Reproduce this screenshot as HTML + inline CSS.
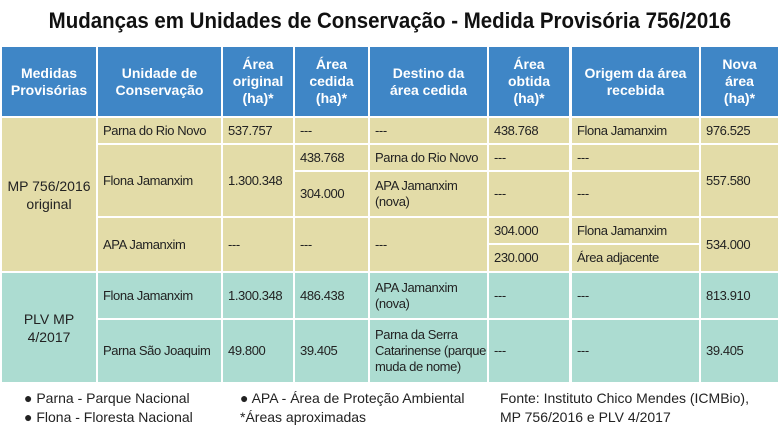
<!DOCTYPE html>
<html><head><meta charset="utf-8"><style>
*{margin:0;padding:0;box-sizing:border-box}
body{width:780px;height:435px;background:#fff;position:relative;overflow:hidden;font-family:"Liberation Sans",Arial,sans-serif}
.t{position:absolute;left:0;top:8px;width:780px;text-align:center}
.t span{display:inline-block;font-weight:bold;font-size:22px;transform:scaleX(0.93);white-space:nowrap;color:#111}
.c{position:absolute;display:flex;align-items:center;font-size:13px;letter-spacing:-0.4px;color:#222;line-height:16px;padding-left:5px}
.h{position:absolute;display:flex;align-items:center;justify-content:center;text-align:center;background:#3f86c6;color:#fff;font-weight:bold;font-size:14px;line-height:17px}
.y{background:#e3dca8}.g{background:#acdcd1}
.ctr{justify-content:center;text-align:center;padding-left:0;font-size:14px;letter-spacing:0;line-height:18px}
.l{position:absolute;font-size:14px;color:#222;line-height:19px}
</style></head><body>
<div class="t"><span>Mudanças em Unidades de Conservação - Medida Provisória 756/2016</span></div>

<div class="h" style="left:2px;top:47px;width:94px;height:69px">Medidas<br>Provisórias</div>
<div class="h" style="left:98px;top:47px;width:123px;height:69px">Unidade de<br>Conservação</div>
<div class="h" style="left:223px;top:47px;width:70px;height:69px">Área<br>original<br>(ha)*</div>
<div class="h" style="left:295px;top:47px;width:73px;height:69px">Área<br>cedida<br>(ha)*</div>
<div class="h" style="left:370px;top:47px;width:117px;height:69px">Destino da<br>área cedida</div>
<div class="h" style="left:489px;top:47px;width:80px;height:69px">Área<br>obtida<br>(ha)*</div>
<div class="h" style="left:572px;top:47px;width:127px;height:69px">Origem da área<br>recebida</div>
<div class="h" style="left:701px;top:47px;width:77px;height:69px">Nova<br>área<br>(ha)*</div>

<div class="c y ctr" style="left:2px;top:118px;width:94px;height:153px">MP 756/2016<br>original</div>
<div class="c y" style="left:98px;top:118px;width:123px;height:25px">Parna do Rio Novo</div>
<div class="c y" style="left:223px;top:118px;width:70px;height:25px">537.757</div>
<div class="c y" style="left:295px;top:118px;width:73px;height:25px">---</div>
<div class="c y" style="left:370px;top:118px;width:117px;height:25px">---</div>
<div class="c y" style="left:489px;top:118px;width:80px;height:25px">438.768</div>
<div class="c y" style="left:572px;top:118px;width:127px;height:25px">Flona Jamanxim</div>
<div class="c y" style="left:701px;top:118px;width:77px;height:25px">976.525</div>
<div class="c y" style="left:98px;top:145px;width:123px;height:71px">Flona Jamanxim</div>
<div class="c y" style="left:223px;top:145px;width:70px;height:71px">1.300.348</div>
<div class="c y" style="left:295px;top:145px;width:73px;height:25px">438.768</div>
<div class="c y" style="left:370px;top:145px;width:117px;height:25px">Parna do Rio Novo</div>
<div class="c y" style="left:489px;top:145px;width:80px;height:25px">---</div>
<div class="c y" style="left:572px;top:145px;width:127px;height:25px">---</div>
<div class="c y" style="left:295px;top:172px;width:73px;height:44px">304.000</div>
<div class="c y" style="left:370px;top:172px;width:117px;height:44px">APA Jamanxim<br>(nova)</div>
<div class="c y" style="left:489px;top:172px;width:80px;height:44px">---</div>
<div class="c y" style="left:572px;top:172px;width:127px;height:44px">---</div>
<div class="c y" style="left:701px;top:145px;width:77px;height:71px">557.580</div>
<div class="c y" style="left:98px;top:218px;width:123px;height:53px">APA Jamanxim</div>
<div class="c y" style="left:223px;top:218px;width:70px;height:53px">---</div>
<div class="c y" style="left:295px;top:218px;width:73px;height:53px">---</div>
<div class="c y" style="left:370px;top:218px;width:117px;height:53px">---</div>
<div class="c y" style="left:489px;top:218px;width:80px;height:25px">304.000</div>
<div class="c y" style="left:572px;top:218px;width:127px;height:25px">Flona Jamanxim</div>
<div class="c y" style="left:489px;top:245px;width:80px;height:26px">230.000</div>
<div class="c y" style="left:572px;top:245px;width:127px;height:26px">Área adjacente</div>
<div class="c y" style="left:701px;top:218px;width:77px;height:53px">534.000</div>

<div class="c g ctr" style="left:2px;top:273px;width:94px;height:109px">PLV MP<br>4/2017</div>
<div class="c g" style="left:98px;top:273px;width:123px;height:45px">Flona Jamanxim</div>
<div class="c g" style="left:223px;top:273px;width:70px;height:45px">1.300.348</div>
<div class="c g" style="left:295px;top:273px;width:73px;height:45px">486.438</div>
<div class="c g" style="left:370px;top:273px;width:117px;height:45px">APA Jamanxim<br>(nova)</div>
<div class="c g" style="left:489px;top:273px;width:80px;height:45px">---</div>
<div class="c g" style="left:572px;top:273px;width:127px;height:45px">---</div>
<div class="c g" style="left:701px;top:273px;width:77px;height:45px">813.910</div>
<div class="c g" style="left:98px;top:320px;width:123px;height:62px">Parna São Joaquim</div>
<div class="c g" style="left:223px;top:320px;width:70px;height:62px">49.800</div>
<div class="c g" style="left:295px;top:320px;width:73px;height:62px">39.405</div>
<div class="c g" style="left:370px;top:320px;width:117px;height:62px">Parna da Serra<br>Catarinense (parque<br>muda de nome)</div>
<div class="c g" style="left:489px;top:320px;width:80px;height:62px">---</div>
<div class="c g" style="left:572px;top:320px;width:127px;height:62px">---</div>
<div class="c g" style="left:701px;top:320px;width:77px;height:62px">39.405</div>

<div class="l" style="left:24px;top:389px">● Parna - Parque Nacional<br>● Flona - Floresta Nacional</div>
<div class="l" style="left:240px;top:389px">● APA - Área de Proteção Ambiental<br>*Áreas aproximadas</div>
<div class="l" style="left:500px;top:389px">Fonte: Instituto Chico Mendes (ICMBio),<br>MP 756/2016 e PLV 4/2017</div>
</body></html>
